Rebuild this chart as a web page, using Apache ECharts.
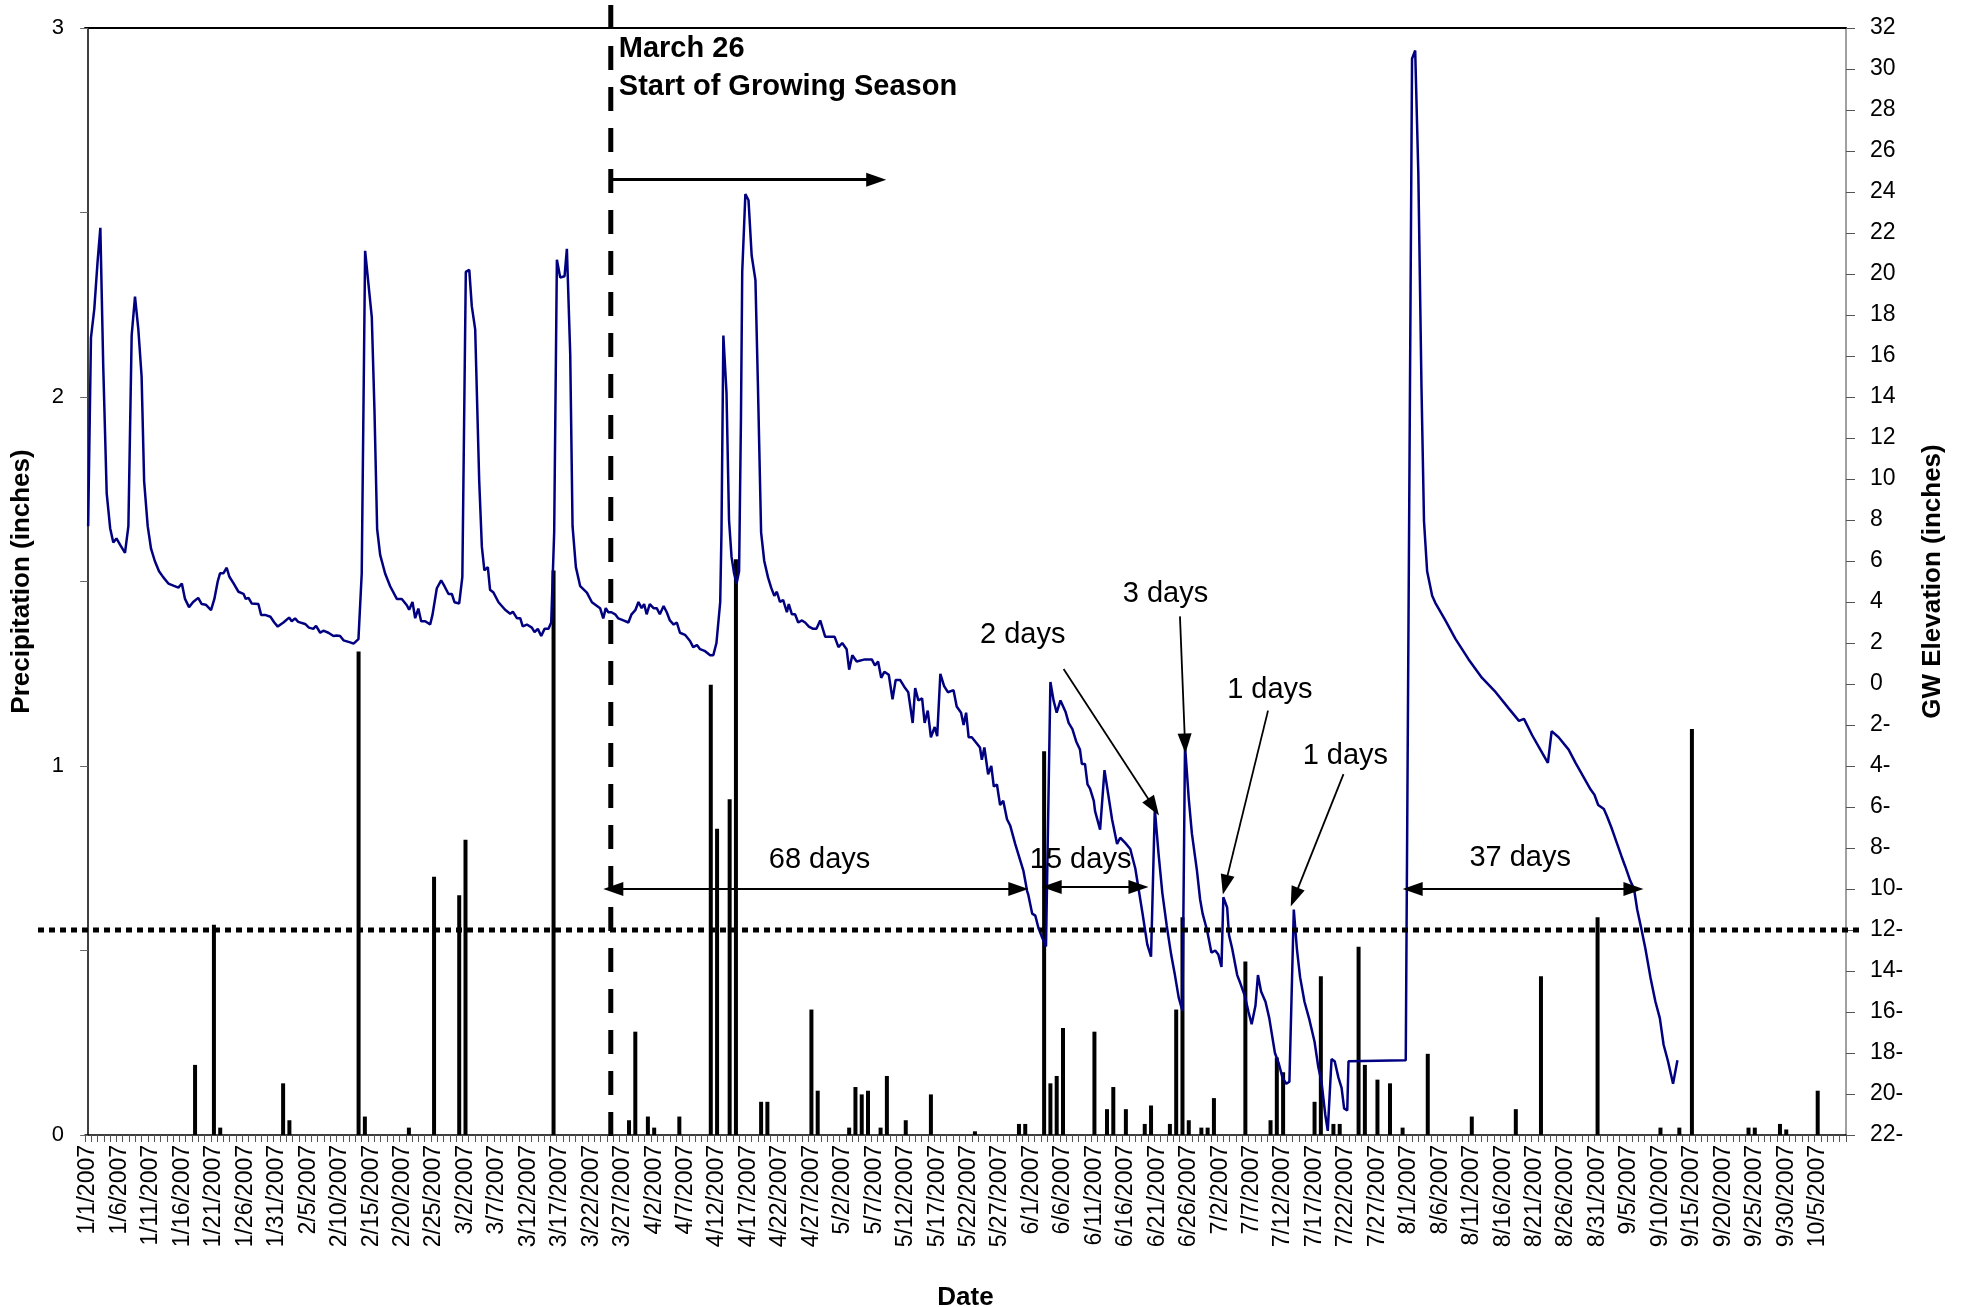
<!DOCTYPE html>
<html><head><meta charset="utf-8">
<script src="https://cdn.jsdelivr.net/npm/echarts@6/dist/echarts.min.js"></script>
<style>html,body{margin:0;padding:0;background:#fff}#c{width:1965px;height:1307px}</style>
</head><body><div id="c"></div>
<script>
const categories = [
'1/1/2007','1/2/2007','1/3/2007','1/4/2007','1/5/2007','1/6/2007','1/7/2007','1/8/2007','1/9/2007','1/10/2007','1/11/2007','1/12/2007','1/13/2007','1/14/2007','1/15/2007','1/16/2007','1/17/2007','1/18/2007','1/19/2007','1/20/2007','1/21/2007','1/22/2007','1/23/2007','1/24/2007','1/25/2007','1/26/2007','1/27/2007','1/28/2007','1/29/2007','1/30/2007','1/31/2007',
'2/1/2007','2/2/2007','2/3/2007','2/4/2007','2/5/2007','2/6/2007','2/7/2007','2/8/2007','2/9/2007','2/10/2007','2/11/2007','2/12/2007','2/13/2007','2/14/2007','2/15/2007','2/16/2007','2/17/2007','2/18/2007','2/19/2007','2/20/2007','2/21/2007','2/22/2007','2/23/2007','2/24/2007','2/25/2007','2/26/2007','2/27/2007','2/28/2007',
'3/1/2007','3/2/2007','3/3/2007','3/4/2007','3/5/2007','3/6/2007','3/7/2007','3/8/2007','3/9/2007','3/10/2007','3/11/2007','3/12/2007','3/13/2007','3/14/2007','3/15/2007','3/16/2007','3/17/2007','3/18/2007','3/19/2007','3/20/2007','3/21/2007','3/22/2007','3/23/2007','3/24/2007','3/25/2007','3/26/2007','3/27/2007','3/28/2007','3/29/2007','3/30/2007','3/31/2007',
'4/2/2007','4/3/2007','4/4/2007','4/5/2007','4/6/2007','4/7/2007','4/8/2007','4/9/2007','4/10/2007','4/11/2007','4/12/2007','4/13/2007','4/14/2007','4/15/2007','4/16/2007','4/17/2007','4/18/2007','4/19/2007','4/20/2007','4/21/2007','4/22/2007','4/23/2007','4/24/2007','4/25/2007','4/26/2007','4/27/2007','4/28/2007','4/29/2007','4/30/2007',
'5/1/2007','5/2/2007','5/3/2007','5/4/2007','5/5/2007','5/6/2007','5/7/2007','5/8/2007','5/9/2007','5/10/2007','5/11/2007','5/12/2007','5/13/2007','5/14/2007','5/15/2007','5/16/2007','5/17/2007','5/18/2007','5/19/2007','5/20/2007','5/21/2007','5/22/2007','5/23/2007','5/24/2007','5/25/2007','5/26/2007','5/27/2007','5/28/2007','5/29/2007','5/30/2007','5/31/2007',
'6/1/2007','6/2/2007','6/3/2007','6/4/2007','6/5/2007','6/6/2007','6/7/2007','6/8/2007','6/9/2007','6/10/2007','6/11/2007','6/12/2007','6/13/2007','6/14/2007','6/15/2007','6/16/2007','6/17/2007','6/18/2007','6/19/2007','6/20/2007','6/21/2007','6/22/2007','6/23/2007','6/24/2007','6/25/2007','6/26/2007','6/27/2007','6/28/2007','6/29/2007','6/30/2007',
'7/2/2007','7/3/2007','7/4/2007','7/5/2007','7/6/2007','7/7/2007','7/8/2007','7/9/2007','7/10/2007','7/11/2007','7/12/2007','7/13/2007','7/14/2007','7/15/2007','7/16/2007','7/17/2007','7/18/2007','7/19/2007','7/20/2007','7/21/2007','7/22/2007','7/23/2007','7/24/2007','7/25/2007','7/26/2007','7/27/2007','7/28/2007','7/29/2007','7/30/2007','7/31/2007',
'8/1/2007','8/2/2007','8/3/2007','8/4/2007','8/5/2007','8/6/2007','8/7/2007','8/8/2007','8/9/2007','8/10/2007','8/11/2007','8/12/2007','8/13/2007','8/14/2007','8/15/2007','8/16/2007','8/17/2007','8/18/2007','8/19/2007','8/20/2007','8/21/2007','8/22/2007','8/23/2007','8/24/2007','8/25/2007','8/26/2007','8/27/2007','8/28/2007','8/29/2007','8/30/2007','8/31/2007',
'9/1/2007','9/2/2007','9/3/2007','9/4/2007','9/5/2007','9/6/2007','9/7/2007','9/8/2007','9/9/2007','9/10/2007','9/11/2007','9/12/2007','9/13/2007','9/14/2007','9/15/2007','9/16/2007','9/17/2007','9/18/2007','9/19/2007','9/20/2007','9/21/2007','9/22/2007','9/23/2007','9/24/2007','9/25/2007','9/26/2007','9/27/2007','9/28/2007','9/29/2007','9/30/2007',
'10/1/2007','10/2/2007','10/3/2007','10/4/2007','10/5/2007','10/6/2007','10/7/2007','10/8/2007','10/9/2007'
];

const precipDates = ['1/18/2007','1/21/2007','1/22/2007','2/1/2007','2/2/2007','2/13/2007','2/14/2007','2/21/2007','2/25/2007','3/1/2007','3/2/2007','3/16/2007','3/28/2007','3/29/2007','3/31/2007','4/2/2007','4/6/2007','4/11/2007','4/12/2007','4/14/2007','4/15/2007','4/19/2007','4/20/2007','4/27/2007','4/28/2007','5/3/2007','5/4/2007','5/5/2007','5/6/2007','5/8/2007','5/9/2007','5/12/2007','5/16/2007','5/23/2007','5/30/2007','5/31/2007','6/3/2007','6/4/2007','6/5/2007','6/6/2007','6/11/2007','6/13/2007','6/14/2007','6/16/2007','6/19/2007','6/20/2007','6/23/2007','6/24/2007','6/25/2007','6/26/2007','6/28/2007','6/29/2007','6/30/2007','7/6/2007','7/10/2007','7/11/2007','7/12/2007','7/17/2007','7/18/2007','7/20/2007','7/21/2007','7/24/2007','7/25/2007','7/27/2007','7/29/2007','7/31/2007','8/4/2007','8/11/2007','8/18/2007','8/22/2007','8/31/2007','9/10/2007','9/13/2007','9/15/2007','9/24/2007','9/25/2007','9/29/2007','9/30/2007','10/5/2007'];
const precipInches = [0.19,0.57,0.02,0.14,0.04,1.31,0.05,0.02,0.70,0.65,0.80,1.53,0.04,0.28,0.05,0.02,0.05,1.22,0.83,0.91,1.56,0.09,0.09,0.34,0.12,0.02,0.13,0.11,0.12,0.02,0.16,0.04,0.11,0.01,0.03,0.03,1.04,0.14,0.16,0.29,0.28,0.07,0.13,0.07,0.03,0.08,0.03,0.34,0.59,0.04,0.02,0.02,0.10,0.47,0.04,0.21,0.17,0.09,0.43,0.03,0.03,0.51,0.19,0.15,0.14,0.02,0.22,0.05,0.07,0.43,0.59,0.02,0.02,1.10,0.02,0.02,0.03,0.015,0.12];

// GW elevation readings: position in days from 1/1 (category index) and level in inches
const gwDay = [0,0.45,0.98,1.5,1.94,2.4,2.95,3.5,4.0,4.5,5.07,5.86,6.4,6.92,7.45,7.98,8.5,8.9,9.47,10.0,10.6,11.27,11.96,12.76,13.55,14.35,14.9,15.4,16.04,16.7,17.5,18.06,18.7,19.54,20.07,20.6,20.97,21.5,22.03,22.46,23.1,23.9,24.7,25.06,25.5,26.0,27.07,27.5,28.13,28.98,29.6,30.15,31.05,31.95,32.37,32.9,33.4,34.5,35.1,35.8,36.24,36.9,37.4,38.2,39.0,39.5,40.06,40.6,41.66,42.2,42.98,43.5,44.04,45.1,45.53,45.95,46.43,47.22,48.02,49.08,49.87,50.67,51.04,51.57,52.0,52.5,52.95,53.6,54.38,54.75,55.44,56.13,56.66,57.3,57.83,58.25,59.0,59.5,60.05,60.6,61.0,61.54,62.18,62.6,63.0,63.55,63.9,64.45,65.25,66.3,67.1,67.53,68.17,68.7,69.1,69.76,70.55,70.98,71.5,72.04,72.57,73.2,73.63,74.1,74.53,75.06,75.75,76.12,76.65,77.02,77.55,78.24,79.3,80.1,81.4,81.9,82.3,82.7,83.2,83.8,84.3,85.1,85.9,86.4,87.0,87.5,88.0,88.4,88.8,89.3,89.9,90.4,90.9,91.5,92.0,92.5,93.1,93.6,94.1,94.9,95.7,96.2,96.8,97.3,98.1,98.9,99.4,99.9,100.5,100.7,101.0,101.5,101.9,102.3,102.7,103.1,103.5,103.8,104.0,104.5,105.0,105.5,106.1,106.5,107.0,107.5,108.1,108.6,109.1,109.5,110.0,110.5,111.1,111.4,111.9,112.4,112.9,113.5,114.0,114.6,115.2,115.8,116.4,116.8,117.2,118.0,118.7,119.3,119.9,120.6,121.0,121.5,122.2,123.5,124.6,125.1,125.6,126.1,126.6,127.3,127.9,128.4,129.1,129.9,130.4,131.1,131.5,132.0,132.6,133.0,133.5,134.0,134.6,135.0,135.5,136.1,136.7,137.6,138.1,138.8,139.2,139.6,140.0,140.5,141.3,141.8,142.1,142.5,143.1,143.6,144.0,144.5,145.0,145.5,146.1,146.6,147.4,148.2,148.7,149.3,149.5,150.1,150.6,151.1,151.6,152.3,153.0,153.5,154.0,154.6,155.4,155.9,156.5,157.1,157.7,158.0,158.5,158.9,159.3,159.9,160.1,160.9,161.6,162.3,162.8,163.6,164.1,164.9,165.7,166.5,167.6,168.4,169.0,169.6,170.2,170.8,171.5,172.2,172.8,173.4,174.0,174.4,175.0,175.5,176.3,176.8,177.2,177.9,178.6,179.2,179.7,180.2,180.5,181.1,181.4,181.9,182.7,183.2,183.9,184.5,185.0,185.6,186.0,186.5,187.2,187.8,188.7,189.3,189.9,190.5,191.0,191.7,192.2,192.7,193.4,194.2,195.0,195.6,196.1,196.7,197.1,197.7,198.2,198.8,199.3,199.7,200.2,200.4,209.5,210.5,211.0,211.5,212.0,212.4,212.9,213.7,214.2,215.8,217.4,219.5,221.6,223.8,225.9,227.5,228.3,229.6,230.9,232.1,232.7,233.8,235.4,236.5,237.8,238.9,239.5,240.1,241.0,241.5,242.2,243.0,243.8,244.4,245.2,245.8,246.3,247.0,247.6,248.4,249.2,249.9,250.5,251.2,252.0,252.7];
const gwLevel = [7.7,16.9,18.3,20.6,22.25,15.5,9.3,7.6,6.9,7.1,6.8,6.4,7.7,17.0,18.9,17.3,15.0,9.9,7.7,6.6,6.0,5.5,5.2,4.9,4.8,4.7,4.9,4.15,3.75,4.0,4.2,3.9,3.87,3.6,4.15,5.0,5.4,5.4,5.67,5.23,4.92,4.5,4.4,4.15,4.2,3.93,3.9,3.37,3.37,3.28,3.0,2.8,3.0,3.24,3.06,3.2,3.03,2.93,2.75,2.69,2.84,2.5,2.6,2.5,2.34,2.37,2.34,2.13,2.03,1.97,2.19,5.39,21.13,17.9,13.3,7.56,6.3,5.39,4.77,4.15,4.15,3.84,3.62,4.0,3.21,3.68,3.06,3.06,2.9,3.37,4.67,5.05,4.77,4.39,4.39,3.99,3.93,5.23,20.1,20.2,18.43,17.3,9.9,6.7,5.54,5.7,4.6,4.46,3.99,3.62,3.43,3.53,3.21,3.21,2.81,2.9,2.75,2.53,2.69,2.34,2.69,2.69,3.0,7.4,20.7,19.83,19.89,21.23,16.1,7.7,5.7,4.77,4.46,3.99,3.7,3.2,3.7,3.5,3.5,3.4,3.2,3.1,3.0,3.4,3.6,4.0,3.7,3.9,3.4,3.9,3.7,3.7,3.4,3.8,3.5,3.1,2.9,3.0,2.5,2.4,2.1,1.8,1.9,1.7,1.6,1.4,1.4,2.0,4.0,7.4,17.0,14.2,8.0,6.2,5.4,4.9,5.5,13.0,20.1,23.9,23.6,20.9,19.7,14.5,7.4,6.0,5.2,4.7,4.3,4.5,4.0,4.1,3.5,3.9,3.4,3.4,3.0,3.1,3.0,2.8,2.7,2.7,3.1,2.7,2.3,2.3,2.3,1.8,2.0,1.7,0.7,1.4,1.1,1.2,1.2,0.9,1.1,0.3,0.6,0.45,-0.75,0.2,0.2,-0.2,-0.4,-1.9,-0.2,-0.8,-0.7,-1.9,-1.3,-2.6,-2.1,-2.55,0.5,-0.1,-0.4,-0.3,-1.1,-1.4,-2.0,-1.4,-2.6,-2.6,-2.9,-3.1,-3.7,-3.1,-4.4,-4.0,-5.0,-4.9,-5.9,-5.7,-6.6,-6.9,-7.8,-8.6,-9.1,-10.1,-10.3,-11.2,-11.3,-11.9,-12.3,-12.8,0.1,-0.8,-1.4,-0.8,-1.35,-1.9,-2.2,-2.8,-3.2,-3.9,-3.9,-4.9,-5.1,-5.7,-6.2,-7.1,-4.2,-5.6,-6.6,-7.8,-7.5,-7.75,-8.05,-9.0,-11.1,-12.7,-13.3,-6.1,-8.3,-10.2,-11.8,-13.2,-14.2,-15.3,-15.95,-3.0,-5.6,-7.3,-9.1,-10.5,-11.2,-12.0,-13.1,-13.0,-13.2,-13.8,-10.4,-10.9,-12.25,-12.9,-14.2,-14.6,-15.2,-16.0,-16.6,-15.7,-14.2,-15.0,-15.5,-16.3,-18.0,-18.5,-19.2,-19.5,-19.4,-11.0,-12.95,-14.3,-15.5,-16.4,-17.45,-18.7,-19.4,-21.0,-21.8,-18.3,-18.4,-19.2,-19.7,-20.7,-20.8,-18.4,-18.35,30.5,30.9,24.9,14.5,7.95,5.5,4.3,3.96,3.1,2.2,1.2,0.31,-0.4,-1.2,-1.8,-1.7,-2.5,-3.2,-3.85,-2.3,-2.6,-3.2,-3.85,-4.55,-5.15,-5.4,-5.9,-6.1,-6.45,-7.0,-7.7,-8.4,-8.9,-9.6,-10.0,-11.0,-12.0,-12.9,-14.3,-15.5,-16.3,-17.6,-18.4,-19.5,-18.35];

// annotations (in data coordinates: day index, GW inches)
const growingStartDay = 83.1;
const growingArrow = {from: 83.1, to: 125.3, level: 24.6};
const thresholdLevel = -12;
const spanArrows = [
  {from: 83.5, to: 147.9, level: -10.0, text: '68 days', tx: 116.3, ty: -8.6},
  {from: 153.2, to: 167.0, level: -9.9, text: '15 days', tx: 157.8, ty: -8.6},
  {from: 210.6, to: 245.7, level: -10.0, text: '37 days', tx: 227.7, ty: -8.5}
];
const callouts = [
  {text: '2 days', tx: 148.6, ty: 2.4, from: [155.1, 0.73], to: [169.4, -6.0]},
  {text: '3 days', tx: 171.3, ty: 4.4, from: [173.6, 3.3], to: [174.4, -2.9]},
  {text: '1 days', tx: 187.9, ty: -0.3, from: [187.6, -1.3], to: [180.8, -9.8]},
  {text: '1 days', tx: 199.9, ty: -3.5, from: [199.6, -4.4], to: [191.8, -10.4]}
];

const FONT = '"Liberation Sans", Arial, sans-serif';
const chart = echarts.init(document.getElementById('c'), null, {renderer: 'canvas'});

const markData = [];
markData.push([
  {coord: [growingArrow.from, growingArrow.level], symbol: 'none', lineStyle: {color: '#000', width: 3, type: 'solid'}},
  {coord: [growingArrow.to, growingArrow.level], symbol: 'triangle', symbolSize: [14, 20]}
]);
spanArrows.forEach(a => markData.push([
  {coord: [a.from, a.level], symbol: 'triangle', symbolSize: [14, 20], lineStyle: {color: '#000', width: 2, type: 'solid'}},
  {coord: [a.to, a.level], symbol: 'triangle', symbolSize: [14, 20]}
]));
callouts.forEach(c => markData.push([
  {coord: c.from, symbol: 'none', lineStyle: {color: '#000', width: 1.8, type: 'solid'}},
  {coord: c.to, symbol: 'triangle', symbolSize: [14, 20]}
]));

const option = {
  animation: false,
  backgroundColor: '#fff',
  textStyle: {fontFamily: FONT},
  grid: {left: 85, right: 119, top: 28, bottom: 172, containLabel: false, outerBoundsMode: 'none'},
  xAxis: [
    {
      type: 'category', data: categories, position: 'bottom', boundaryGap: true,
      axisLine: {lineStyle: {color: '#000', width: 1.5}},
      axisTick: {show: true, interval: 0, length: 7, lineStyle: {color: '#555', width: 1}},
      axisLabel: {interval: 4, rotate: 90, fontSize: 23, color: '#000', fontFamily: FONT, margin: 10},
      splitLine: {show: false},
      name: 'Date', nameLocation: 'middle', nameGap: 150,
      nameTextStyle: {fontSize: 26, fontWeight: 'bold', color: '#000', fontFamily: FONT}
    },
    {
      type: 'value', min: -0.5, max: 279.5, position: 'top',
      axisLine: {show: true, onZero: false, lineStyle: {color: '#000', width: 2}},
      axisTick: {show: false}, axisLabel: {show: false}, splitLine: {show: false}
    }
  ],
  yAxis: [
    {
      type: 'value', min: 0, max: 3, interval: 0.5, position: 'left',
      axisLine: {show: true, lineStyle: {color: '#000', width: 1.5}},
      axisTick: {show: true, length: 8, lineStyle: {color: '#666'}},
      axisLabel: {fontSize: 22, color: '#000', margin: 21, fontFamily: FONT,
        formatter: v => (Math.abs(v - Math.round(v)) < 1e-9 ? String(Math.round(v)) : '')},
      splitLine: {show: false},
      name: 'Precipitation (inches)', nameLocation: 'middle', nameGap: 50, nameRotate: 90,
      nameTextStyle: {fontSize: 26, fontWeight: 'bold', color: '#000', fontFamily: FONT}
    },
    {
      type: 'value', min: -22, max: 32, interval: 2, position: 'right',
      axisLine: {show: true, lineStyle: {color: '#808080', width: 1.5}},
      axisTick: {show: true, length: 9, lineStyle: {color: '#555'}},
      axisLabel: {fontSize: 23, color: '#000', margin: 24, fontFamily: FONT,
        formatter: v => (v < 0 ? (-v) + '-' : String(v))},
      splitLine: {show: false},
      name: 'GW Elevation (inches)', nameLocation: 'middle', nameGap: 74, nameRotate: 90,
      nameTextStyle: {fontSize: 26, fontWeight: 'bold', color: '#000', fontFamily: FONT}
    }
  ],
  series: [
    {
      name: 'Precipitation', type: 'bar', xAxisIndex: 0, yAxisIndex: 0,
      barWidth: 4, itemStyle: {color: '#000'}, z: 2,
      data: precipDates.map((d, k) => [d, precipInches[k]])
    },
    {
      name: 'GW Elevation', type: 'line', xAxisIndex: 1, yAxisIndex: 1,
      showSymbol: false, symbol: 'none', smooth: false, z: 3,
      lineStyle: {color: '#000080', width: 2.5},
      data: gwDay.map((d, k) => [d, gwLevel[k]]),
      markLine: {silent: true, animation: false, label: {show: false}, symbol: ['none', 'none'], data: markData}
    }
  ]
};
chart.setOption(option);

const px = (x, y) => chart.convertToPixel({seriesIndex: 1}, [x, y]);
const graphics = [];
const dx = px(growingStartDay, 0)[0];
const ty = px(0, thresholdLevel)[1];
graphics.push({type: 'line', z: 50, shape: {x1: dx, y1: 5, x2: dx, y2: 1143}, style: {stroke: '#000', lineWidth: 5, lineDash: [24, 17]}});
graphics.push({type: 'line', z: 50, shape: {x1: 38, y1: ty, x2: 1862, y2: ty}, style: {stroke: '#000', lineWidth: 5, lineDash: [6, 5]}});
graphics.push({type: 'text', z: 60, x: dx + 8, y: 30, style: {text: 'March 26\nStart of Growing Season', font: 'bold 29px ' + FONT, fill: '#000', align: 'left', verticalAlign: 'top', lineHeight: 38}});
spanArrows.forEach(a => {
  const p = px(a.tx, a.ty);
  graphics.push({type: 'text', z: 60, x: p[0], y: p[1], style: {text: a.text, font: '29px ' + FONT, fill: '#000', align: 'center', verticalAlign: 'middle'}});
});
callouts.forEach(c => {
  const p = px(c.tx, c.ty);
  graphics.push({type: 'text', z: 60, x: p[0], y: p[1], style: {text: c.text, font: '29px ' + FONT, fill: '#000', align: 'center', verticalAlign: 'middle'}});
});
chart.setOption({graphic: graphics});
</script>
</body></html>
